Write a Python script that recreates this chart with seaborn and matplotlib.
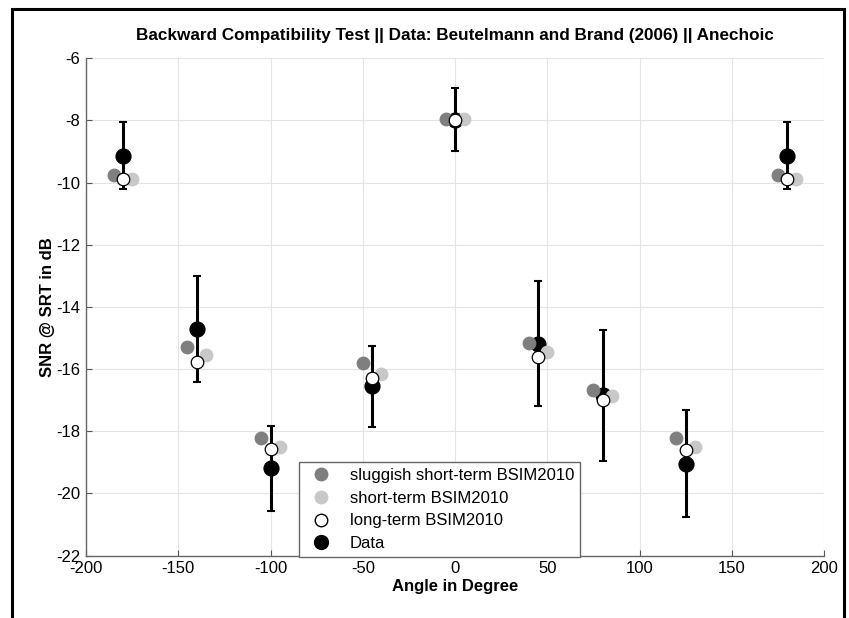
import matplotlib
matplotlib.use("Agg")
import matplotlib.pyplot as plt
from matplotlib.lines import Line2D
from matplotlib.patches import Rectangle
import seaborn as sns
import pandas as pd
import numpy as np

# ---- data ----
angles = [-180, -140, -100, -45, 0, 45, 80, 125, 180]
data_mean = [-9.13, -14.72, -19.2, -16.55, -7.97, -15.18, -16.85, -19.04, -9.13]
data_err = [1.08, 1.7, 1.37, 1.3, 1.0, 2.02, 2.12, 1.73, 1.08]
sluggish = [-9.76, -15.3, -18.22, -15.8, -7.96, -15.15, -16.67, -18.22, -9.76]
short_term = [-9.88, -15.55, -18.5, -16.16, -7.96, -15.45, -16.86, -18.5, -9.88]
long_term = [-9.9, -15.78, -18.56, -16.3, -7.97, -15.62, -17.0, -18.62, -9.9]

labels = ["sluggish short-term BSIM2010", "short-term BSIM2010",
          "long-term BSIM2010", "Data"]
title = "Backward Compatibility Test || Data: Beutelmann and Brand (2006) || Anechoic"
xticks = [-200, -150, -100, -50, 0, 50, 100, 150, 200]
yticks = [-22, -20, -18, -16, -14, -12, -10, -8, -6]

sns.set_theme(style="white")
plt.rcParams["font.family"] = ["Liberation Sans", "DejaVu Sans"]
plt.rcParams["font.size"] = 12
plt.rcParams["text.color"] = "black"
plt.rcParams["axes.labelcolor"] = "black"
plt.rcParams["xtick.color"] = "black"
plt.rcParams["ytick.color"] = "black"

fig = plt.figure(figsize=(8.49, 6.18), dpi=100)
ax = fig.add_axes([86 / 849, 1 - 555.5 / 618, (824 - 86) / 849, (555.5 - 58.3) / 618])

# Data with error bars
ax.errorbar(angles, data_mean, yerr=data_err, fmt="none", ecolor="black",
            elinewidth=2.2, capsize=3, capthick=1.5, zorder=3)
sns.scatterplot(x=angles, y=data_mean, ax=ax, color="black", s=118,
                edgecolor="black", linewidth=0.8, zorder=4, legend=False)

# model points, horizontally offset
offset = 5
df = pd.DataFrame({
    "angle": np.concatenate([np.array(angles) - offset, np.array(angles) + offset,
                             np.array(angles)]),
    "snr": sluggish + short_term + long_term,
    "model": [labels[0]] * len(angles) + [labels[1]] * len(angles) + [labels[2]] * len(angles),
})
palette = {labels[0]: "#7f7f7f", labels[1]: "#c8c8c8", labels[2]: "white"}
edges = {labels[0]: "#7f7f7f", labels[1]: "#c8c8c8", labels[2]: "black"}
for m in labels[:3]:
    sub = df[df["model"] == m]
    sns.scatterplot(data=sub, x="angle", y="snr", ax=ax, color=palette[m],
                    edgecolor=edges[m], linewidth=0.9, s=82, zorder=5, legend=False)

ax.set_xlim(-200, 200)
ax.set_ylim(-22, -6)
ax.set_xticks(xticks)
ax.set_yticks(yticks)
ax.set_xticklabels([str(t) for t in xticks], fontsize=12)
ax.set_yticklabels([str(t) for t in yticks], fontsize=12)
ax.grid(True, color="#e4e4e4", linewidth=0.8)
ax.set_axisbelow(True)
ax.tick_params(direction="in", length=4, width=0.8, color="#555555",
               bottom=True, left=True, pad=4, labelcolor="black")
for s in ["top", "right"]:
    ax.spines[s].set_visible(False)
for s in ["left", "bottom"]:
    ax.spines[s].set_color("#666666")
    ax.spines[s].set_linewidth(1.0)

ax.set_xlabel("Angle in Degree", fontsize=12, fontweight="bold", labelpad=2,
              color="black")
ax.set_ylabel("SNR @ SRT in dB", fontsize=12, fontweight="bold", labelpad=1,
              color="black")
ax.set_title(title, fontsize=12.3, fontweight="bold", pad=13, color="black")

handles = [
    Line2D([], [], ls="none", marker="o", ms=9, mfc="#7f7f7f", mec="#7f7f7f"),
    Line2D([], [], ls="none", marker="o", ms=9, mfc="#c8c8c8", mec="#c8c8c8"),
    Line2D([], [], ls="none", marker="o", ms=9, mfc="white", mec="black"),
    Line2D([], [], ls="none", marker="o", ms=10, mfc="black", mec="black"),
]
leg = ax.legend(handles, labels, loc="lower left", bbox_to_anchor=(0.289, -0.003),
                borderaxespad=0, fontsize=12, frameon=True, fancybox=False,
                framealpha=1, edgecolor="#666666", handletextpad=0.8,
                labelspacing=0.46, borderpad=0.35, handlelength=1.9)
leg.get_frame().set_linewidth(1.0)
for t in leg.get_texts():
    t.set_color("black")

# outer black frame
fig.patches.append(Rectangle((12 / 849, -0.1), (844 - 12) / 849, 1 - 9 / 618 + 0.1,
                             transform=fig.transFigure, fill=False,
                             edgecolor="black", linewidth=2.2))

fig.savefig("out.png", dpi=100)
